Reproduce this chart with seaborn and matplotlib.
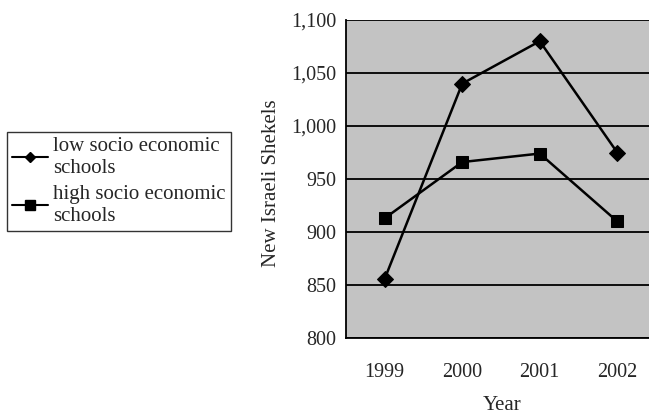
import matplotlib
matplotlib.use("Agg")
import matplotlib.pyplot as plt
import matplotlib.ticker as mticker
from matplotlib.lines import Line2D
import seaborn as sns
import pandas as pd

years = ["1999", "2000", "2001", "2002"]
low_ses = [856, 1040, 1080, 975]
high_ses = [913, 966, 974, 910]
series_names = ["low socio economic\nschools", "high socio economic\nschools"]

df = pd.DataFrame({
    "idx": list(range(len(years))) * 2,
    "value": low_ses + high_ses,
    "series": [series_names[0]] * len(years) + [series_names[1]] * len(years),
})

sns.set_theme(style="white")
plt.rcParams["font.family"] = ["Liberation Serif", "DejaVu Serif"]

fig = plt.figure(figsize=(6.49, 4.13), dpi=100)
ax = fig.add_axes([346 / 649, 1 - 338 / 413, (656 - 346) / 649, (338 - 20) / 413])
ax.set_facecolor("#c3c3c3")

sns.lineplot(data=df, x="idx", y="value", hue="series", style="series",
             markers={series_names[0]: "D", series_names[1]: "s"},
             dashes=False, palette=["black", "black"], ax=ax,
             linewidth=1.8, markersize=8.5, markeredgecolor="black", legend=False)

ax.set_xlim(-0.5, len(years) - 0.5)
ax.set_ylim(800, 1100)
ax.yaxis.set_major_locator(mticker.MultipleLocator(50))
ax.yaxis.set_major_formatter(mticker.FuncFormatter(lambda v, p: f"{int(v):,}"))
ax.grid(axis="y", color="black", linewidth=1.3)
ax.set_axisbelow(True)

ax.set_xticks(range(len(years)))
ax.set_xticklabels(years, fontsize=14.5)
ax.set_xticks([i + 0.5 for i in range(len(years) - 1)] + [-0.5], minor=True)
ax.tick_params(axis="x", which="major", length=0, pad=18)
ax.tick_params(axis="x", which="minor", length=5, width=1.2, color="black", direction="out")
ax.tick_params(axis="y", length=6, width=1.2, color="black", direction="out", labelsize=14.5, pad=1)

for s in ["top", "right"]:
    ax.spines[s].set_visible(False)
for s in ["left", "bottom"]:
    ax.spines[s].set_color("black")
    ax.spines[s].set_linewidth(1.3)

ax.set_xlabel("Year", fontsize=15)
ax.xaxis.set_label_coords((502 - 346) / (656 - 346), -(405 - 338) / (338 - 20))
ax.xaxis.label.set_va("center")
ax.set_ylabel("New Israeli Shekels", fontsize=15)
ax.yaxis.set_label_coords(-(346 - 272) / (656 - 346), (338 - 183) / (338 - 20))
ax.yaxis.label.set_va("center")

handles = [
    Line2D([], [], color="black", marker="D", markersize=5.5, linewidth=1.5),
    Line2D([], [], color="black", marker="s", markersize=6.5, linewidth=1.5),
]
leg = fig.legend(handles, series_names, loc="upper left",
                 bbox_to_anchor=(7 / 649, 1 - 132 / 413), fontsize=15,
                 frameon=True, fancybox=False, edgecolor="black",
                 handlelength=1.7, handletextpad=0.25, borderpad=0.25,
                 labelspacing=0.35, borderaxespad=0, handleheight=0.7)
leg.get_frame().set_linewidth(1.0)
for t in leg.get_texts():
    t.set_linespacing(1.2)

fig.savefig("out.png", dpi=100)
